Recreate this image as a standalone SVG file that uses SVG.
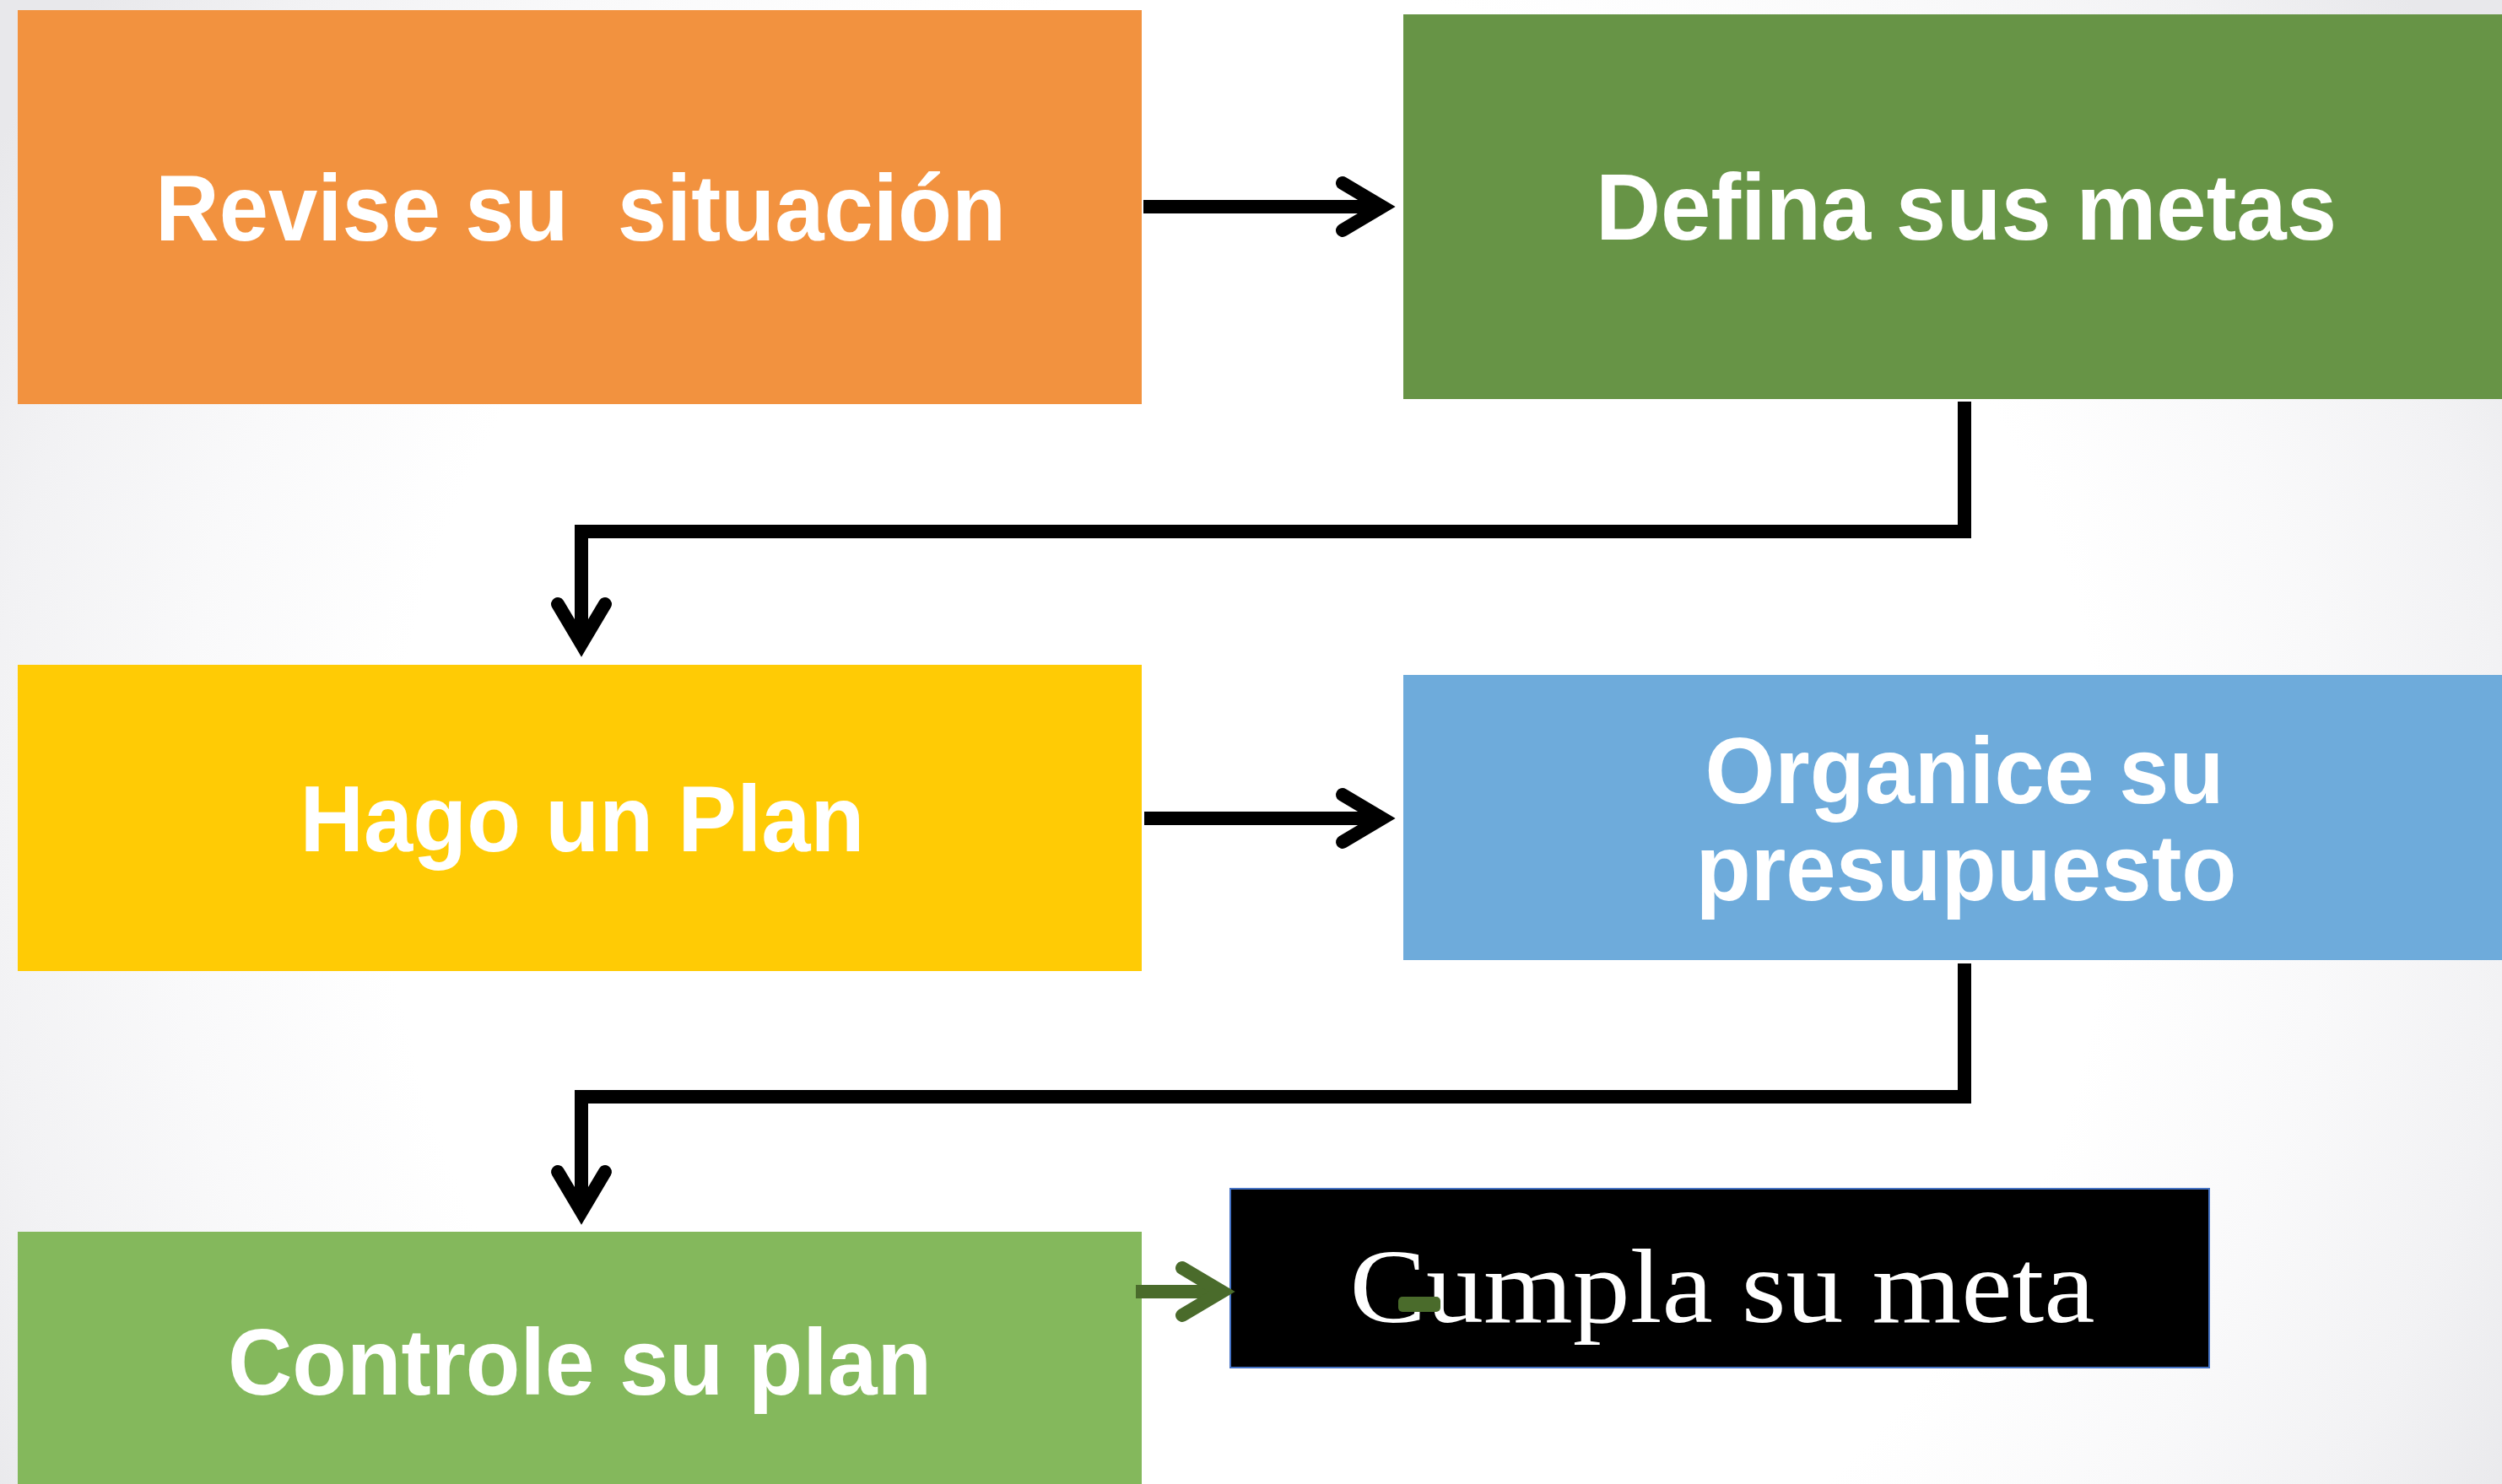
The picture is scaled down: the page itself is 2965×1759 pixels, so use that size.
<svg xmlns="http://www.w3.org/2000/svg" width="2965" height="1759" viewBox="0 0 2965 1759">
  <defs>
    <radialGradient id="bg" gradientUnits="userSpaceOnUse" cx="1480" cy="1000" r="1700">
      <stop offset="0" stop-color="#FFFFFF"/>
      <stop offset="0.6" stop-color="#FFFFFF"/>
      <stop offset="0.75" stop-color="#F9F9FA"/>
      <stop offset="0.88" stop-color="#F2F2F4"/>
      <stop offset="1" stop-color="#E8E8EB"/>
    </radialGradient>
  </defs>
  <style>
    .lbl { font-family: "Liberation Sans", Arial, sans-serif; font-weight: bold; font-size: 112px; fill: #FFFFFF; text-anchor: middle; }
    .serif { font-family: "Liberation Serif", "Times New Roman", serif; font-size: 125px; fill: #FFFFFF; text-anchor: middle; }
    .edge { fill: none; stroke: #000000; stroke-width: 16; stroke-linejoin: miter; stroke-linecap: butt; }
    .head { fill: none; stroke: #000000; stroke-width: 16; stroke-linejoin: miter; stroke-miterlimit: 10; stroke-linecap: round; }
    .g { stroke: #4A6B2B; }
  </style>
  <rect x="0" y="0" width="2965" height="1759" fill="url(#bg)"/>

  <g id="node-revise">
    <rect x="21" y="12" width="1332" height="467" fill="#F2923F"/>
    <text class="lbl" x="688" y="285" textLength="1008" lengthAdjust="spacingAndGlyphs" xml:space="preserve">Revise su  situación</text>
  </g>
  <g id="node-defina">
    <rect x="1663" y="17" width="1334" height="456" fill="#679446"/>
    <text class="lbl" x="2330" y="284" textLength="878" lengthAdjust="spacingAndGlyphs">Defina sus metas</text>
  </g>
  <g id="node-hago">
    <rect x="21" y="788" width="1332" height="363" fill="#FFCB05"/>
    <text class="lbl" x="690" y="1009" textLength="669" lengthAdjust="spacingAndGlyphs">Hago un Plan</text>
  </g>
  <g id="node-organice">
    <rect x="1663" y="800" width="1334" height="338" fill="#6EABDB"/>
    <text class="lbl" x="2328" y="952" textLength="615" lengthAdjust="spacingAndGlyphs">Organice su</text>
    <text class="lbl" x="2330" y="1067" textLength="641" lengthAdjust="spacingAndGlyphs">presupuesto</text>
  </g>
  <g id="node-controle">
    <rect x="21" y="1460" width="1332" height="310" fill="#84B85C"/>
    <text class="lbl" x="687" y="1653" textLength="834" lengthAdjust="spacingAndGlyphs">Controle su plan</text>
  </g>
  <g id="node-cumpla">
    <rect x="1458" y="1409" width="1160" height="212" fill="#000000" stroke="#4472C4" stroke-width="2"/>
    <text class="serif" x="2041" y="1567" textLength="883" lengthAdjust="spacingAndGlyphs">Cumpla su meta</text>
  </g>

  <g id="connectors">
    <!-- Revise -> Defina -->
    <path class="edge" d="M1355,245 H1628"/>
    <path class="head" d="M1591,217 L1638,245 L1591,273"/>
    <!-- Defina -> Hago -->
    <path class="edge" d="M2328,476 V630 H689 V753"/>
    <path class="head" d="M661,716 L689,763 L717,716"/>
    <!-- Hago -> Organice -->
    <path class="edge" d="M1356,970 H1628"/>
    <path class="head" d="M1591,942 L1638,970 L1591,998"/>
    <!-- Organice -> Controle -->
    <path class="edge" d="M2328,1142 V1300 H689 V1426"/>
    <path class="head" d="M661,1389 L689,1436 L717,1389"/>
    <!-- Controle -> Cumpla -->
    <path class="edge g" d="M1346,1531 H1438"/>
    <path class="head g" d="M1401,1503 L1448,1531 L1401,1559"/>
    <rect x="1657" y="1537" width="50" height="18" rx="5" fill="#4A6B2B"/>
  </g>
</svg>
